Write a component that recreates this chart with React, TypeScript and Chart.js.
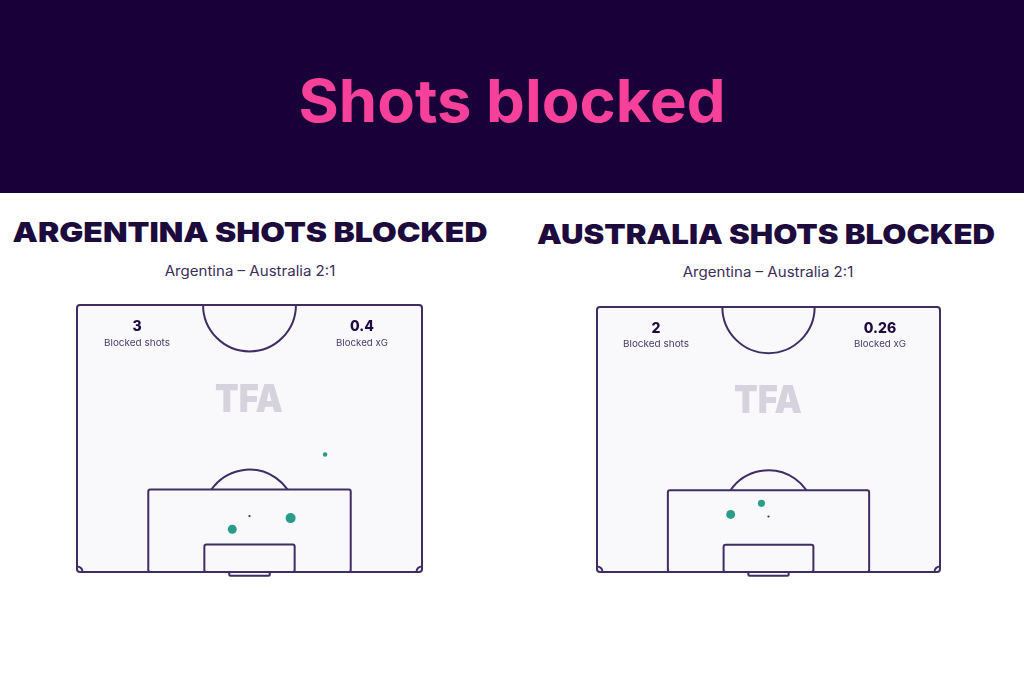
import React, { useEffect, useLayoutEffect, useRef, useState } from "react";
import { Chart, registerables } from "chart.js";

Chart.register(...registerables);

// ---------- data ----------
const pageTitle = "Shots blocked";
const matchLabel = "Argentina – Australia 2:1";
const teamNames = ["ARGENTINA", "AUSTRALIA"];
const blockedShots = ["3", "2"];
const blockedXG = ["0.4", "0.26"];
const statLabelShots = "Blocked shots";
const statLabelXG = "Blocked xG";
const watermark = "TFA";

// shot locations in metres: x across pitch (0..68), y distance from goal line (0..52.5)
const argShotX = [48.9, 42.1, 30.6];
const argShotY = [23.1, 10.6, 8.4];
const argShotXG = [0.04, 0.2, 0.16];
const ausShotX = [32.6, 26.5];
const ausShotY = [13.6, 11.4];
const ausShotXG = [0.1, 0.16];

// ---------- styles ----------
const BANNER = "#1a0038";
const PINK = "#f7409a";
const INK = "#1e0b3e";
const LINE = "#3f2d63";
const TEAL = "#2a9d8a";
const PITCH_BG = "#f9f8fb";
const FONT = "Inter, 'Noto Sans', sans-serif";

const pitchPlugin = {
  id: "pitch",
  beforeDatasetsDraw(chart: any) {
    const { ctx, scales } = chart;
    const xs = scales.x;
    const ys = scales.y;
    const X = (v: number) => xs.getPixelForValue(v);
    const Y = (v: number) => ys.getPixelForValue(v);
    const m = Math.abs(X(1) - X(0));
    ctx.save();
    ctx.lineWidth = 2;
    ctx.strokeStyle = LINE;
    ctx.fillStyle = PITCH_BG;
    // outer
    ctx.beginPath();
    ctx.roundRect(X(0), Y(52.5), X(68) - X(0), Y(0) - Y(52.5), 3);
    ctx.fill();
    ctx.stroke();
    // centre circle (half)
    ctx.beginPath();
    ctx.arc(X(34), Y(52.5), 9.15 * m, 0, Math.PI);
    ctx.stroke();
    // penalty box
    ctx.beginPath();
    ctx.roundRect(X(14.05), Y(16.2), X(53.95) - X(14.05), Y(0) - Y(16.2), 2);
    ctx.stroke();
    // six-yard box
    ctx.beginPath();
    ctx.roundRect(X(25.1), Y(5.4), X(42.9) - X(25.1), Y(0) - Y(5.4), 2);
    ctx.stroke();
    // penalty arc
    const th = Math.asin((16.2 - 11) / 9.15);
    ctx.beginPath();
    ctx.arc(X(34), Y(11), 9.15 * m, -(Math.PI - th), -th);
    ctx.stroke();
    // penalty spot
    ctx.fillStyle = LINE;
    ctx.beginPath();
    ctx.arc(X(34), Y(11), 1.1, 0, Math.PI * 2);
    ctx.fill();
    // corner arcs
    ctx.beginPath();
    ctx.arc(X(0), Y(0), 1.1 * m, -Math.PI / 2, 0);
    ctx.stroke();
    ctx.beginPath();
    ctx.arc(X(68), Y(0), 1.1 * m, -Math.PI, -Math.PI / 2);
    ctx.stroke();
    // goal
    ctx.fillStyle = PITCH_BG;
    ctx.beginPath();
    ctx.roundRect(X(30), Y(0), X(38) - X(30), Y(-0.75) - Y(0), 1.5);
    ctx.fill();
    ctx.stroke();
    ctx.restore();
  },
};

function PitchChart(props: {
  left: number; top: number; w: number; h: number;
  xs: number[]; ys: number[]; xg: number[];
}) {
  const ref = useRef<HTMLCanvasElement>(null);
  useEffect(() => {
    if (!ref.current) return;
    const data = props.xs.map((x, i) => ({ x, y: props.ys[i] }));
    const chart = new Chart(ref.current, {
      type: "scatter",
      data: {
        datasets: [
          {
            data,
            pointRadius: props.xg.map((v) => 11.2 * Math.sqrt(v)),
            pointBackgroundColor: TEAL,
            pointBorderWidth: 0,
            pointBorderColor: TEAL,
          },
        ],
      },
      options: {
        animation: false,
        responsive: false,
        maintainAspectRatio: false,
        devicePixelRatio: 1,
        layout: { padding: { left: 10, right: 10, top: 10, bottom: 13 } },
        plugins: { legend: { display: false }, tooltip: { enabled: false }, title: { display: false } },
        scales: {
          x: { type: "linear", min: 0, max: 68, display: false },
          y: { type: "linear", min: 0, max: 52.5, display: false },
        },
      },
      plugins: [pitchPlugin],
    });
    return () => chart.destroy();
  }, []);
  return (
    <canvas
      ref={ref}
      width={props.w}
      height={props.h}
      style={{ position: "absolute", left: props.left, top: props.top, width: props.w, height: props.h }}
    />
  );
}

function Centered(props: { text: string; cx: number; cy: number; size: number; weight: number; color: string; width?: number }) {
  const ref = useRef<HTMLDivElement>(null);
  const [s, setS] = useState(1);
  useLayoutEffect(() => {
    const measure = () => {
      if (!ref.current || !props.width) return;
      const w = ref.current.offsetWidth;
      if (w > 0) setS(props.width / w);
    };
    measure();
    (document as any).fonts?.ready?.then(measure);
  }, []);
  return (
    <div
      ref={ref}
      style={{
        position: "absolute",
        left: props.cx,
        top: props.cy - props.size / 2,
        transform: `translateX(-50%) scaleX(${s})`,
        transformOrigin: "50% 50%",
        fontFamily: FONT,
        fontSize: props.size,
        fontWeight: props.weight,
        lineHeight: `${props.size}px`,
        height: props.size,
        color: props.color,
        whiteSpace: "nowrap",
      }}
    >
      {props.text}
    </div>
  );
}

export default function App() {
  const panels = [
    { cx: 250, headY: 233, headW: 475, subY: 271, numY: 326, lblY: 342.5, sx: 137, xgx: 362, tfaY: 398,
      canvas: { left: 67, top: 295, w: 365, h: 290 }, xs: argShotX, ys: argShotY, xg: argShotXG },
    { cx: 766, headY: 235, headW: 458, subY: 272, numY: 328, lblY: 344, sx: 656, xgx: 880, tfaY: 399,
      canvas: { left: 587, top: 297, w: 363, h: 288 }, xs: ausShotX, ys: ausShotY, xg: ausShotXG },
  ];
  return (
    <div style={{ position: "fixed", left: 0, top: 0, width: 1024, height: 683, background: "#ffffff", overflow: "hidden" }}>
      <div style={{ position: "absolute", left: 0, top: 0, width: 1024, height: 193, background: BANNER }} />
      <Centered text={pageTitle} cx={512} cy={100.5} size={59} weight={700} color={PINK} width={427} />
      {panels.map((p, i) => (
        <React.Fragment key={i}>
          <Centered text={`${teamNames[i]} SHOTS BLOCKED`} cx={p.cx} cy={p.headY} size={27.5} weight={900} color={INK} width={p.headW} />
          <Centered text={matchLabel} cx={i === 0 ? 250 : 768} cy={p.subY} size={14} weight={400} color="#3b2e5a" width={171} />
          <PitchChart {...p.canvas} xs={p.xs} ys={p.ys} xg={p.xg} />
          <Centered text={watermark} cx={i === 0 ? 249 : 768} cy={p.tfaY} size={38.5} weight={900} color="#d6d2de" width={68} />
          <Centered text={blockedShots[i]} cx={p.sx} cy={p.numY} size={14} weight={800} color={INK} />
          <Centered text={statLabelShots} cx={p.sx} cy={p.lblY} size={9.5} weight={400} color="#4a3d6a" width={66} />
          <Centered text={blockedXG[i]} cx={p.xgx} cy={p.numY} size={14} weight={800} color={INK} />
          <Centered text={statLabelXG} cx={p.xgx} cy={p.lblY} size={9.5} weight={400} color="#4a3d6a" width={52} />
        </React.Fragment>
      ))}
    </div>
  );
}
